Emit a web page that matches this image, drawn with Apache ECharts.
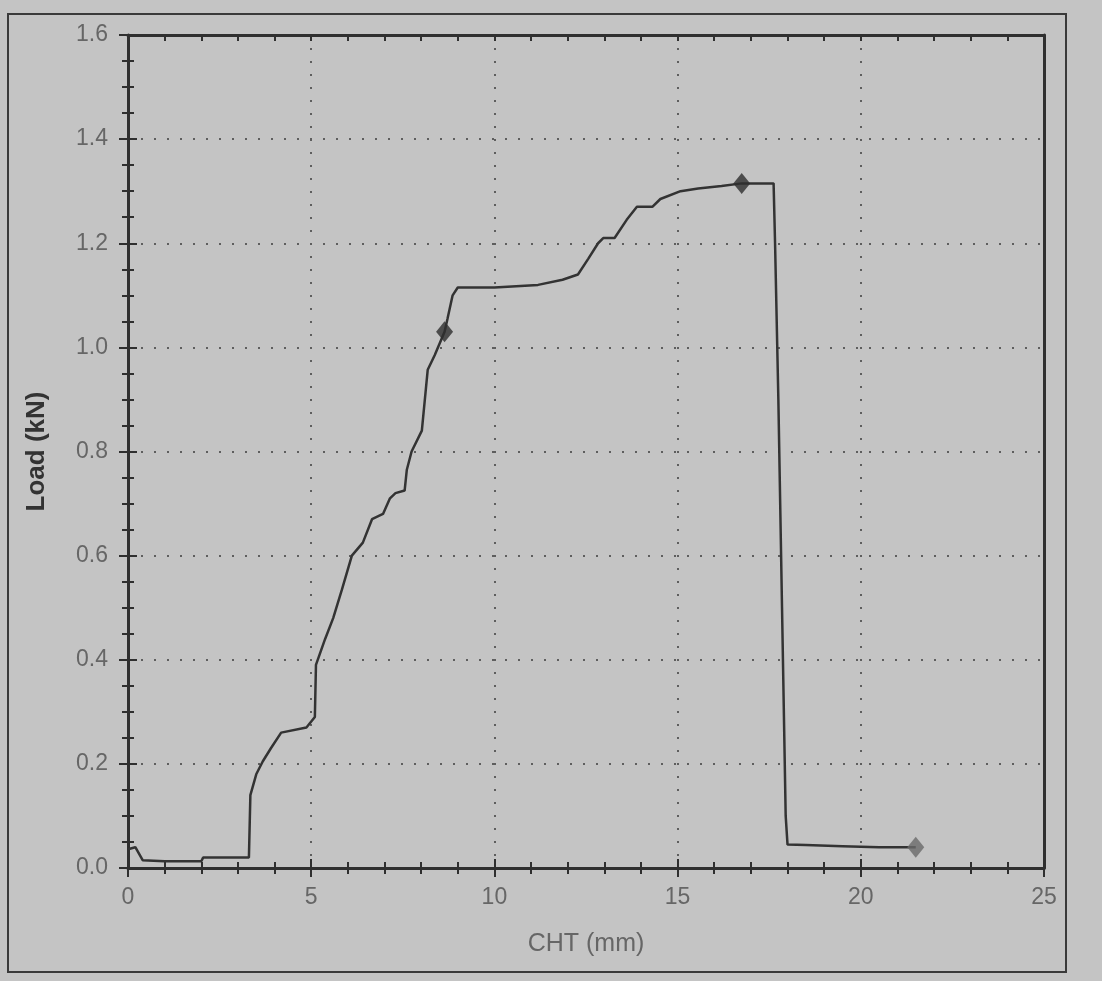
<!DOCTYPE html>
<html>
<head>
<meta charset="utf-8">
<script src="https://cdn.jsdelivr.net/npm/echarts@6/dist/echarts.min.js"></script>
<style>
  html, body { margin: 0; padding: 0; background: #c4c4c4; }
  #main { width: 1102px; height: 981px; }
</style>
</head>
<body>
<div id="main"></div>
<script>
// CHT (mm) vs Load (kN)
var cht = [0, 0.2, 0.4, 1.0, 2.0, 2.05, 3.3, 3.34, 3.5, 3.68, 3.9, 4.18, 4.87, 5.1, 5.13,
  5.38, 5.6, 5.84, 6.11, 6.41, 6.66, 6.96, 7.15, 7.3, 7.55, 7.61, 7.74, 8.02, 8.18, 8.37,
  8.64, 8.72, 8.86, 9.0, 10.0, 11.19, 11.86, 12.28, 12.56, 12.83, 12.97, 13.28, 13.61,
  13.89, 14.31, 14.53, 15.08, 15.56, 16.2, 16.75, 17.62, 17.66, 17.75, 17.85, 17.95,
  18.0, 18.5, 19.5, 20.5, 21.5];
var load = [0.036, 0.04, 0.015, 0.013, 0.013, 0.02, 0.02, 0.14, 0.18, 0.205, 0.23, 0.26,
  0.27, 0.29, 0.39, 0.44, 0.48, 0.535, 0.60, 0.625, 0.67, 0.68, 0.71, 0.72, 0.725, 0.765,
  0.80, 0.84, 0.957, 0.985, 1.03, 1.055, 1.10, 1.115, 1.115, 1.12, 1.13, 1.14, 1.17, 1.2,
  1.21, 1.21, 1.245, 1.27, 1.27, 1.285, 1.30, 1.305, 1.31, 1.315, 1.315, 1.2, 0.9, 0.5,
  0.1, 0.045, 0.044, 0.042, 0.04, 0.04];

// diamond markers
var markX = [8.64, 16.75, 21.5];
var markY = [1.03, 1.315, 0.04];
var markColor = ['#2e2e2e', '#2e2e2e', '#6a6a6a'];

var xTicks = [0, 5, 10, 15, 20, 25];
var yTicks = [0, 0.2, 0.4, 0.6, 0.8, 1.0, 1.2, 1.4, 1.6];

var myChart = echarts.init(document.getElementById('main'));

var axisDark = '#2f2f2f';
var labelGray = '#666';
var gridDots = { show: true, lineStyle: { color: '#5e5e5e', width: 2, type: [2, 11] } };

var option = {
    backgroundColor: '#c4c4c4',
    animation: false,
    graphic: [{
        type: 'rect',
        shape: { x: 8, y: 14, width: 1058, height: 958 },
        style: { fill: 'none', stroke: '#3a3a3a', lineWidth: 2 },
        silent: true
    }],
    grid: { left: 128, right: 58, top: 35, bottom: 113 },
    xAxis: [
        {
            type: 'value', min: 0, max: xTicks[xTicks.length - 1], interval: 5,
            name: 'CHT (mm)', nameLocation: 'middle', nameGap: 64,
            nameTextStyle: { fontFamily: 'Liberation Sans', fontSize: 25, color: labelGray },
            axisLine: { show: true, onZero: false, lineStyle: { color: axisDark, width: 3 } },
            axisTick: { show: true, length: 9, lineStyle: { color: axisDark, width: 2 } },
            minorTick: { show: true, splitNumber: 5, length: 6, lineStyle: { color: axisDark, width: 2 } },
            axisLabel: { fontFamily: 'Liberation Sans', fontSize: 23, color: labelGray, margin: 18 },
            splitLine: gridDots
        },
        {
            type: 'value', min: 0, max: 25, interval: 5, position: 'bottom',
            axisLine: { show: false, onZero: false },
            axisTick: { show: true, inside: true, length: 9, lineStyle: { color: axisDark, width: 2 } },
            minorTick: { show: true, splitNumber: 5, length: 6, lineStyle: { color: axisDark, width: 2 } },
            axisLabel: { show: false }, splitLine: { show: false }
        },
        {
            type: 'value', min: 0, max: 25, interval: 5, position: 'top',
            axisLine: { show: true, onZero: false, lineStyle: { color: axisDark, width: 3 } },
            axisTick: { show: true, inside: true, length: 6, lineStyle: { color: axisDark, width: 2 } },
            minorTick: { show: true, splitNumber: 5, length: 6, lineStyle: { color: axisDark, width: 2 } },
            axisLabel: { show: false }, splitLine: { show: false }
        }
    ],
    yAxis: [
        {
            type: 'value', min: 0, max: yTicks[yTicks.length - 1], interval: 0.2,
            name: 'Load (kN)', nameLocation: 'middle', nameGap: 78,
            nameTextStyle: { fontFamily: 'Liberation Sans', fontSize: 26, fontWeight: 'bold', color: '#333' },
            axisLine: { show: true, onZero: false, lineStyle: { color: axisDark, width: 3 } },
            axisTick: { show: true, length: 9, lineStyle: { color: axisDark, width: 2 } },
            minorTick: { show: true, splitNumber: 4, length: 6, lineStyle: { color: axisDark, width: 2 } },
            axisLabel: {
                fontFamily: 'Liberation Sans', fontSize: 23, color: labelGray, margin: 20,
                formatter: function (v) { return v.toFixed(1); }
            },
            splitLine: gridDots
        },
        {
            type: 'value', min: 0, max: 1.6, interval: 0.2, position: 'left',
            axisLine: { show: false, onZero: false },
            axisTick: { show: true, inside: true, length: 9, lineStyle: { color: axisDark, width: 2 } },
            minorTick: { show: true, splitNumber: 4, length: 6, lineStyle: { color: axisDark, width: 2 } },
            axisLabel: { show: false }, splitLine: { show: false }
        },
        {
            type: 'value', min: 0, max: 1.6, interval: 0.2, position: 'right',
            axisLine: { show: true, onZero: false, lineStyle: { color: axisDark, width: 3 } },
            axisTick: { show: false }, axisLabel: { show: false }, splitLine: { show: false }
        }
    ],
    series: [
        {
            name: 'Load',
            type: 'line',
            xAxisIndex: 0, yAxisIndex: 0,
            showSymbol: false,
            lineStyle: { color: '#333', width: 2.5 },
            data: cht.map(function (x, i) { return [x, load[i]]; }),
            z: 3
        },
        {
            name: 'Points',
            type: 'scatter',
            xAxisIndex: 0, yAxisIndex: 0,
            symbol: 'diamond',
            symbolSize: [17, 21],
            data: markX.map(function (x, i) {
                return { value: [x, markY[i]], itemStyle: { color: markColor[i] } };
            }),
            z: 4
        }
    ]
};

myChart.setOption(option);

window.onresize = function () {
    myChart.resize();
};
</script>
</body>
</html>
